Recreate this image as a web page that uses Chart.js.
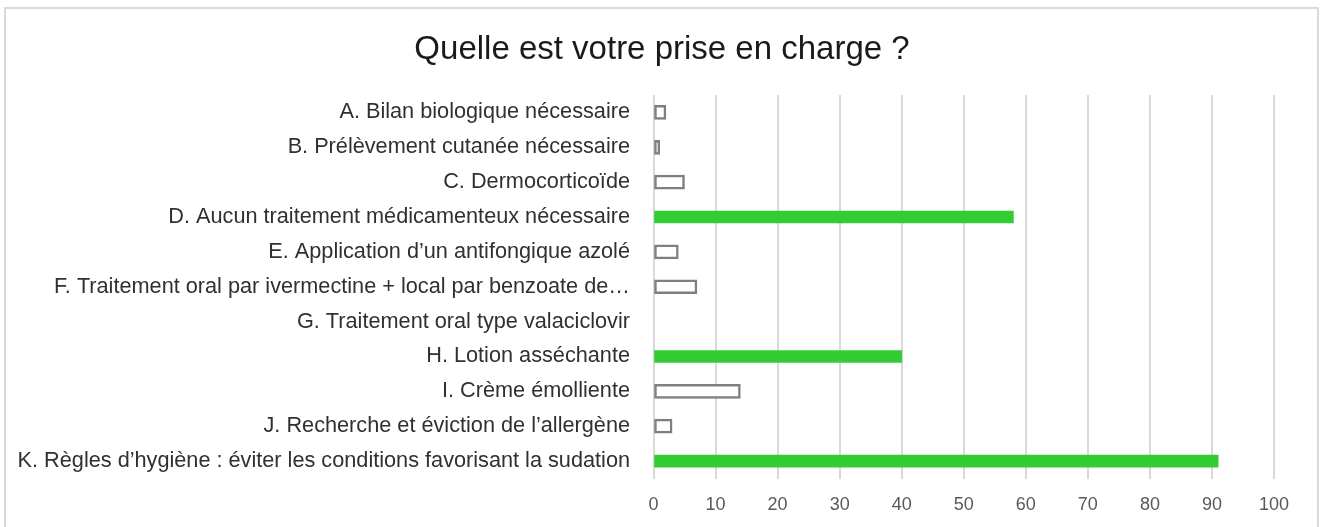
<!DOCTYPE html>
<html lang="fr">
<head>
<meta charset="utf-8">
<title>Quelle est votre prise en charge ?</title>
<script src="https://cdn.jsdelivr.net/npm/chart.js@4/dist/chart.umd.min.js"></script>
<style>
  html, body { margin: 0; padding: 0; background: #fff; overflow: hidden; }
  #frame { position: absolute; left: 4px; top: 7px; width: 1315px; height: 560px; border: 2px solid #d9d9d9; box-sizing: border-box; }
  #chart { position: absolute; left: 0; top: 0; }
</style>
</head>
<body>
<div id="frame"></div>
<canvas id="chart" width="1325" height="527"></canvas>
<script>
  const title = 'Quelle est votre prise en charge ?';

  const categories = [
    'A. Bilan biologique nécessaire',
    'B. Prélèvement cutanée nécessaire',
    'C. Dermocorticoïde',
    'D. Aucun traitement médicamenteux nécessaire',
    'E. Application d\u2019un antifongique azolé',
    'F. Traitement oral par ivermectine + local par benzoate de\u2026',
    'G. Traitement oral type valaciclovir',
    'H. Lotion asséchante',
    'I. Crème émolliente',
    'J. Recherche et éviction de l\u2019allergène',
    'K. Règles d\u2019hygiène : éviter les conditions favorisant la sudation'
  ];

  // percentage of answers
  const values = [2, 1, 5, 58, 4, 7, 0, 40, 14, 3, 91];

  // expected answers (green bars)
  const correct = [false, false, false, true, false, false, false, true, false, false, true];

  const xTicks = { min: 0, max: 100, step: 10 };

  const correctData = values.map((v, i) => correct[i] ? v : null);
  const otherData = values.map((v, i) => correct[i] ? null : v);

  const font = '"Liberation Sans", Arial, sans-serif';

  // centre the title on the whole frame rather than on the padded area
  const titleShift = {
    id: 'titleShift',
    afterLayout(chart) {
      const t = chart.titleBlock;
      if (t) { t.left += 25; t.right += 25; }
    }
  };

  const el = document.getElementById('chart');
  new Chart(el.getContext('2d'), {
    type: 'bar',
    data: {
      labels: categories,
      datasets: [
        {
          label: 'Bonne réponse',
          data: correctData,
          backgroundColor: '#33cc33',
          borderWidth: 0,
          barThickness: 12,
          grouped: false
        },
        {
          label: 'Autre',
          data: otherData,
          backgroundColor: '#ffffff',
          borderColor: '#7f7f7f',
          borderWidth: 2.5,
          borderSkipped: false,
          barThickness: 14,
          grouped: false
        }
      ]
    },
    options: {
      indexAxis: 'y',
      responsive: false,
      animation: false,
      devicePixelRatio: 1,
      layout: { padding: { left: 0, right: 51, top: 0, bottom: 0 } },
      scales: {
        x: {
          min: xTicks.min,
          max: xTicks.max,
          afterFit: (s) => { s.height = 48.5; },
          ticks: { stepSize: xTicks.step, color: '#595959', padding: 16, font: { family: font, size: 18 } },
          grid: { color: '#d9d9d9', lineWidth: 2, drawTicks: false },
          border: { display: false }
        },
        y: {
          afterFit: (s) => { s.width = 653.5; },
          ticks: { color: '#303030', padding: 23.5, autoSkip: false, font: { family: font, size: 21.7 } },
          grid: { display: false, drawTicks: false },
          border: { display: false }
        }
      },
      plugins: {
        legend: { display: false },
        tooltip: { enabled: false },
        title: {
          display: true,
          text: title,
          color: '#1a1a1a',
          font: { family: font, size: 33, weight: 'normal' },
          padding: { top: 30, bottom: 25.4 }
        }
      }
    },
    plugins: [titleShift]
  });
</script>
</body>
</html>
